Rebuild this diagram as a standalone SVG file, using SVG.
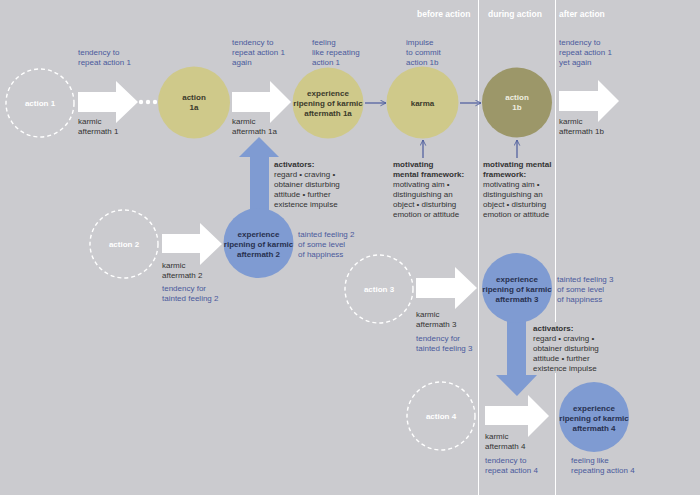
<svg xmlns="http://www.w3.org/2000/svg" width="700" height="495" viewBox="0 0 700 495">
<defs>
<marker id="chev" viewBox="0 0 10 10" refX="9" refY="5" markerWidth="7" markerHeight="7" orient="auto" markerUnits="userSpaceOnUse">
<path d="M1,1 L9,5 L1,9" fill="none" stroke="#4a5a9c" stroke-width="1.2"/>
</marker>
</defs>
<style>
text{font-family:"Liberation Sans",Arial,sans-serif;font-size:8px}
.blue{fill:#4a5a9c}
.dark{fill:#333333}
.b{font-weight:bold}
.hdr{fill:#ffffff;font-weight:bold;font-size:8.5px}
.ctr{text-anchor:middle;font-weight:bold}
.dash{fill:none;stroke:#ffffff;stroke-width:1.4;stroke-dasharray:4 3}
.yel{fill:#cfc98a}
.olv{fill:#9c9769}
.blc{fill:#7f9bd2}
.warr{fill:#ffffff}
.barr{fill:#7f9bd2}
.thin{stroke:#4a5a9c;stroke-width:1.2;fill:none;marker-end:url(#chev)}
.vline{stroke:#ffffff;stroke-width:1}
</style>
<rect x="0" y="0" width="700" height="495" fill="#cbcbcf"/>
<g id="timeline">
<line class="vline" x1="478.5" y1="0" x2="478.5" y2="495"/>
<line class="vline" x1="555.5" y1="0" x2="555.5" y2="495"/>
<text class="hdr" x="417" y="16.5">before action</text>
<text class="hdr" x="488" y="16.5">during action</text>
<text class="hdr" x="559" y="16.5">after action</text>
</g>
<g id="connectors">
<polygon class="warr" points="78,92 116,92 116,81 138,102 116,123 116,112 78,112"/>
<circle cx="141" cy="102" r="2.2" fill="#ffffff"/>
<circle cx="148" cy="102" r="2.2" fill="#ffffff"/>
<circle cx="155" cy="102" r="2.2" fill="#ffffff"/>
<polygon class="warr" points="232,92 270,92 270,81 291,102 270,123 270,112 232,112"/>
<polygon class="warr" points="559,91 598,91 598,80 619,101 598,122 598,111 559,111"/>
<polygon class="warr" points="162,234 200,234 200,223 222,244 200,265 200,253 162,253"/>
<polygon class="warr" points="416,278 455,278 455,267 477,288 455,309 455,298 416,298"/>
<polygon class="warr" points="485,406 528,406 528,395 549,416 528,437 528,425 485,425"/>
<polygon class="barr" points="250,215 250,157 239,157 259,137 279,157 269,157 269,215"/>
<polygon class="barr" points="507,318 526,318 526,375 537,375 517,396 496,375 507,375"/>
<line class="thin" x1="365" y1="103" x2="386" y2="103"/>
<line class="thin" x1="460" y1="103" x2="481" y2="103"/>
<line class="thin" x1="423" y1="158" x2="423" y2="140"/>
<line class="thin" x1="517" y1="158" x2="517" y2="140"/>
</g>
<g id="action1">
<circle class="dash" cx="40" cy="103" r="34"/>
<text class="ctr" x="40" y="106" fill="#ffffff">action 1</text>
<text class="blue" x="78" y="55">tendency to</text>
<text class="blue" x="78" y="65">repeat action 1</text>
<text class="dark" x="78" y="124">karmic</text>
<text class="dark" x="78" y="134">aftermath 1</text>
</g>
<g id="action1a">
<circle class="yel" cx="194" cy="102.5" r="36"/>
<text class="ctr" x="194" y="100" fill="#3b3a2a">action</text>
<text class="ctr" x="194" y="110" fill="#3b3a2a">1a</text>
<text class="blue" x="232" y="45">tendency to</text>
<text class="blue" x="232" y="55">repeat action 1</text>
<text class="blue" x="232" y="65">again</text>
<text class="dark" x="232" y="124">karmic</text>
<text class="dark" x="232" y="134">aftermath 1a</text>
</g>
<g id="ripening1a">
<circle class="yel" cx="328" cy="103" r="35.5"/>
<text class="ctr" x="328" y="96" fill="#3b3a2a">experience</text>
<text class="ctr" x="328" y="106" fill="#3b3a2a">ripening of karmic</text>
<text class="ctr" x="328" y="116" fill="#3b3a2a">aftermath 1a</text>
<text class="blue" x="312" y="45">feeling</text>
<text class="blue" x="312" y="55">like repeating</text>
<text class="blue" x="312" y="65">action 1</text>
</g>
<g id="karma">
<circle class="yel" cx="422.5" cy="102.5" r="36"/>
<text class="ctr" x="422.5" y="106" fill="#3b3a2a">karma</text>
<text class="blue" x="406" y="45">impulse</text>
<text class="blue" x="406" y="55">to commit</text>
<text class="blue" x="406" y="65">action 1b</text>
<text class="dark" x="393" y="167"><tspan class="b">motivating</tspan></text>
<text class="dark b" x="393" y="177">mental framework:</text>
<text class="dark" x="393" y="187">motivating aim •</text>
<text class="dark" x="393" y="197">distinguishing an</text>
<text class="dark" x="393" y="207">object • disturbing</text>
<text class="dark" x="393" y="217">emotion or attitude</text>
</g>
<g id="action1b">
<circle class="olv" cx="517" cy="102.5" r="35"/>
<text class="ctr" x="517" y="100" fill="#efeee0">action</text>
<text class="ctr" x="517" y="110" fill="#efeee0">1b</text>
<text class="dark b" x="483" y="167">motivating mental</text>
<text class="dark b" x="483" y="177">framework:</text>
<text class="dark" x="483" y="187">motivating aim •</text>
<text class="dark" x="483" y="197">distinguishing an</text>
<text class="dark" x="483" y="207">object • disturbing</text>
<text class="dark" x="483" y="217">emotion or attitude</text>
<text class="blue" x="559" y="45">tendency to</text>
<text class="blue" x="559" y="55">repeat action 1</text>
<text class="blue" x="559" y="65">yet again</text>
<text class="dark" x="559" y="124">karmic</text>
<text class="dark" x="559" y="134">aftermath 1b</text>
</g>
<g id="activators2">
<text class="dark b" x="274" y="167">activators:</text>
<text class="dark" x="274" y="177">regard • craving •</text>
<text class="dark" x="274" y="187">obtainer disturbing</text>
<text class="dark" x="274" y="197">attitude • further</text>
<text class="dark" x="274" y="207">existence impulse</text>
</g>
<g id="action2">
<circle class="dash" cx="124" cy="244" r="34"/>
<text class="ctr" x="124" y="247" fill="#ffffff">action 2</text>
<text class="dark" x="162" y="268">karmic</text>
<text class="dark" x="162" y="278">aftermath 2</text>
<text class="blue" x="162" y="291">tendency for</text>
<text class="blue" x="162" y="301">tainted feeling 2</text>
</g>
<g id="ripening2">
<circle class="blc" cx="258.5" cy="243" r="35"/>
<text class="ctr" x="258.5" y="237" fill="#27304f">experience</text>
<text class="ctr" x="258.5" y="247" fill="#27304f">ripening of karmic</text>
<text class="ctr" x="258.5" y="257" fill="#27304f">aftermath 2</text>
<text class="blue" x="298" y="237">tainted feeling 2</text>
<text class="blue" x="298" y="247">of some level</text>
<text class="blue" x="298" y="257">of happiness</text>
</g>
<g id="action3">
<circle class="dash" cx="379" cy="289" r="34"/>
<text class="ctr" x="379" y="292" fill="#ffffff">action 3</text>
<text class="dark" x="416" y="317">karmic</text>
<text class="dark" x="416" y="327">aftermath 3</text>
<text class="blue" x="416" y="341">tendency for</text>
<text class="blue" x="416" y="351">tainted feeling 3</text>
</g>
<g id="ripening3">
<circle class="blc" cx="517" cy="288" r="35"/>
<text class="ctr" x="517" y="282" fill="#27304f">experience</text>
<text class="ctr" x="517" y="292" fill="#27304f">ripening of karmic</text>
<text class="ctr" x="517" y="302" fill="#27304f">aftermath 3</text>
<text class="blue" x="557" y="282">tainted feeling 3</text>
<text class="blue" x="557" y="292">of some level</text>
<text class="blue" x="557" y="302">of happiness</text>
</g>
<g id="activators3">
<rect x="531" y="322" width="72" height="51" fill="#cbcbcf"/>
<text class="dark b" x="533" y="331">activators:</text>
<text class="dark" x="533" y="341">regard • craving •</text>
<text class="dark" x="533" y="351">obtainer disturbing</text>
<text class="dark" x="533" y="361">attitude • further</text>
<text class="dark" x="533" y="371">existence impulse</text>
</g>
<g id="action4">
<circle class="dash" cx="441" cy="416" r="34"/>
<text class="ctr" x="441" y="419" fill="#ffffff">action 4</text>
<text class="dark" x="485" y="439">karmic</text>
<text class="dark" x="485" y="449">aftermath 4</text>
<text class="blue" x="485" y="463">tendency to</text>
<text class="blue" x="485" y="473">repeat action 4</text>
</g>
<g id="ripening4">
<circle class="blc" cx="594" cy="417" r="35"/>
<text class="ctr" x="594" y="411" fill="#27304f">experience</text>
<text class="ctr" x="594" y="421" fill="#27304f">ripening of karmic</text>
<text class="ctr" x="594" y="431" fill="#27304f">aftermath 4</text>
<text class="blue" x="571" y="463">feeling like</text>
<text class="blue" x="571" y="473">repeating action 4</text>
</g>
</svg>
